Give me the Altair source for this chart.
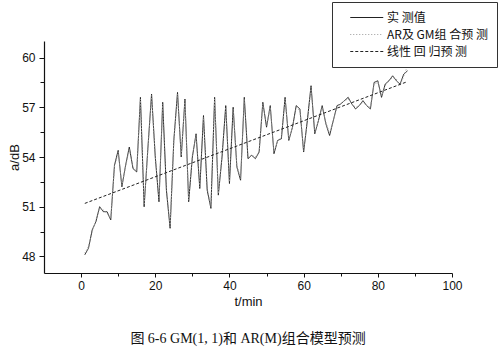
import altair as alt
import pandas as pd

# ---- data ----
t_values = list(range(1, 89))
measured = [48.1, 48.5, 49.6, 50.1, 51.0, 50.7, 50.7, 50.2, 53.5, 54.4,
            52.2, 53.5, 54.6, 53.3, 53.1, 57.6, 51.0, 54.5, 57.8, 54.0,
            51.3, 57.3, 52.0, 49.7, 55.0, 57.9, 54.0, 57.5, 51.3, 54.0,
            55.4, 52.1, 56.5, 52.0, 50.9, 57.6, 51.7, 54.0, 57.1, 52.4,
            57.0, 53.4, 52.6, 57.6, 53.9, 54.1, 53.9, 54.3, 57.3, 55.8,
            57.1, 54.2, 55.0, 55.1, 57.6, 55.0, 55.8, 57.1, 56.9, 54.3,
            56.2, 58.3, 55.4, 56.2, 57.1, 56.0, 55.3, 56.2, 57.1, 57.2,
            57.4, 57.6, 57.2, 56.9, 57.1, 57.4, 57.1, 56.9, 58.5, 58.6,
            57.6, 58.4, 58.6, 58.9, 58.6, 58.4, 59.0, 59.2]
predicted = [48.2, 48.6, 49.5, 50.2, 50.9, 50.8, 50.6, 50.3, 53.4, 54.3,
             52.3, 53.4, 54.5, 53.4, 53.2, 57.5, 51.1, 54.4, 57.7, 54.1,
             51.4, 57.2, 52.1, 49.8, 54.9, 57.8, 54.1, 57.4, 51.4, 54.1,
             55.3, 52.2, 56.4, 52.1, 51.0, 57.5, 51.8, 54.1, 57.0, 52.5,
             56.9, 53.5, 52.7, 57.5, 54.0, 54.1, 54.0, 54.3, 57.2, 55.9,
             57.0, 54.3, 55.0, 55.2, 57.5, 55.1, 55.8, 57.0, 56.8, 54.4,
             56.1, 58.2, 55.5, 56.2, 57.0, 56.1, 55.4, 56.2, 57.0, 57.2,
             57.4, 57.5, 57.2, 57.0, 57.1, 57.3, 57.1, 57.0, 58.4, 58.5,
             57.7, 58.3, 58.6, 58.8, 58.7, 58.3, 58.9, 59.5]
reg_t = [1, 88]
reg_values = [51.2, 58.55]

names = ["实 测值", "AR及 GM组 合预 测", "线性 回 归预 测"]
x_ticks = [0, 10, 20, 30, 40, 50, 60, 70, 80, 90, 100]
y_ticks = [48, 49.5, 51, 52.5, 54, 55.5, 57, 58.5, 60]
caption = "图 6-6 GM(1, 1)和 AR(M)组合模型预测"

rows = []
for t, v in zip(t_values, measured):
    rows.append({"t": t, "v": v, "s": names[0]})
for t, v in zip(t_values, predicted):
    rows.append({"t": t, "v": v, "s": names[1]})
for t, v in zip(reg_t, reg_values):
    rows.append({"t": t, "v": v, "s": names[2]})
df = pd.DataFrame(rows)

legend = alt.Legend(title=None, orient="none", legendX=288, legendY=-39)

chart = alt.Chart(df).mark_line(strokeWidth=1).encode(
    x=alt.X("t:Q",
            scale=alt.Scale(domain=[-10, 100], nice=False, zero=False),
            axis=alt.Axis(values=x_ticks, title="t/min", labelFlush=False,
                          labelExpr="datum.value % 20 == 0 ? datum.label : ''",
                          tickSize={"condition": {"test": "datum.value % 20 == 0", "value": 4}, "value": 3},
                          labelPadding=3, titlePadding=4)),
    y=alt.Y("v:Q",
            scale=alt.Scale(domain=[47, 61], nice=False, zero=False),
            axis=alt.Axis(values=y_ticks, title="a/dB", labelFlush=False,
                          labelExpr="datum.value % 3 == 0 ? datum.label : ''",
                          tickSize={"condition": {"test": "datum.value % 3 == 0", "value": 5}, "value": 4},
                          labelPadding=4, titlePadding=0)),
    color=alt.Color("s:N", scale=alt.Scale(domain=names, range=["#222222", "#9a9a9a", "#222222"]),
                    legend=legend),
    strokeDash=alt.StrokeDash("s:N", scale=alt.Scale(domain=names, range=[[1, 0], [1, 2], [3, 2]]),
                              legend=legend),
).properties(
    width=408, height=232,
    autosize=alt.AutoSizeParams(type="none"),
    padding={"left": 44, "top": 41, "right": 48, "bottom": 83},
    title=alt.TitleParams(text=caption, orient="bottom", anchor="middle",
                          font="Liberation Serif, Noto Sans CJK SC", fontSize=14,
                          fontWeight="normal", color="#111111", offset=24),
).configure_view(
    stroke=None
).configure_axis(
    grid=False, domainColor="#111111", tickColor="#111111", domainWidth=1.2,
    labelFont="Liberation Sans", labelFontSize=12, labelColor="#111111",
    titleFont="Liberation Sans", titleFontSize=13, titleFontWeight="normal",
    titleColor="#111111",
).configure_legend(
    strokeColor="#333333", fillColor="white", padding=9,
    labelFont="Noto Sans CJK SC", labelFontSize=12, labelColor="#111111",
    symbolType="M0.5,0H6.5", symbolSize=121, symbolStrokeWidth=1.2,
    rowPadding=4, labelOffset=33,
)

chart.save("out.html", embed_options={"renderer": "svg", "actions": False})
